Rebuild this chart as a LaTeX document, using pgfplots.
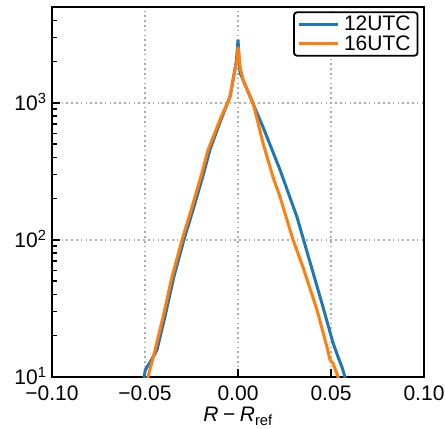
\documentclass[border=0pt]{standalone}
\usepackage{pgfplots}
\pgfplotsset{compat=1.18}
\usepackage{fontspec}
\setmainfont{Liberation Sans}

\definecolor{c12}{HTML}{1F77B4}
\definecolor{c16}{HTML}{FF7F0E}

\newcommand{\bigfont}{\fontsize{21}{24}\selectfont}

\begin{document}
\begin{tikzpicture}[font=\bigfont]
\begin{axis}[
    name=ax,
    scale only axis,
    width=372pt, height=370pt,
    xmin=-0.10, xmax=0.10,
    ymode=log, ymin=10, ymax=5000,
    axis line style={line width=2.2pt},
    xtick pos=left, ytick pos=left,
    tick align=inside,
    major tick length=8pt, minor tick length=4.5pt,
    every tick/.style={black, line width=1.4pt},
    xtick={-0.10,-0.05,0,0.05,0.10},
    xticklabels={−0.10,−0.05,0.00,0.05,0.10},
    ytick={10,100,1000},
    yticklabels={10\textsuperscript{1},10\textsuperscript{2},10\textsuperscript{3}},
    minor ytick={20,30,40,50,60,70,80,90,200,300,400,500,600,700,800,900,2000,3000,4000,5000},
    tick label style={font=\bigfont},
    xticklabel style={yshift=-5pt},
    yticklabel style={xshift=-2pt, yshift=1pt},
    grid=major,
    major grid style={color=black!33, dash pattern=on 1.6pt off 3.2pt, line width=1.5pt},
    xlabel={\textit{R}\hspace{0.22em}−\hspace{0.22em}\textit{R}\textsubscript{ref}},
    xlabel style={font=\bigfont, yshift=0pt},
    legend style={at={(0.985,0.988)}, anchor=north east, draw=black,
        line width=1.8pt, rounded corners=3pt, font=\bigfont,
        inner xsep=3pt, inner ysep=2pt, row sep=-1pt,
        nodes={inner xsep=4pt}},
    legend cell align=left,
    legend image code/.code={\draw[#1, line width=3.2pt] (0cm,0cm) -- (1.4cm,0cm);},
]
% 12 UTC
\addplot[c12, line width=3pt] coordinates {
(-0.0512,8) (-0.0505,10) (-0.0498,11.3) (-0.0470,13) (-0.0436,15.7)
(-0.0393,27.4) (-0.0345,53.7) (-0.0291,100) (-0.0237,174) (-0.0184,308)
(-0.0151,454) (-0.0092,752) (-0.0043,1107) (-0.0026,1472) (-0.0008,2060)
(0,2880) (0.0011,1656) (0.0065,1107) (0.0134,668) (0.0226,324)
(0.0317,147) (0.0403,58) (0.0457,32.4) (0.0511,17.7) (0.0538,14.0)
(0.0559,11.8) (0.0575,10) (0.0590,8)
};
\addlegendentry{12UTC}
% 16 UTC
\addplot[c16, line width=3pt] coordinates {
(-0.0495,8) (-0.0484,10) (-0.0446,15.7) (-0.0403,27.4) (-0.0355,53.7)
(-0.0301,100) (-0.0247,174) (-0.0194,308) (-0.0161,454)
(-0.0097,752) (-0.0043,1107) (-0.0027,1472) (-0.0005,2060) (0,2565)
(0.0011,1832) (0.0027,1472) (0.0081,1000) (0.0134,511) (0.0188,288)
(0.0226,206) (0.0296,100) (0.0349,63.5) (0.0425,30.8) (0.0478,16.6)
(0.0495,13.3) (0.0511,12.6) (0.0538,10) (0.0550,8)
};
\addlegendentry{16UTC}
\end{axis}
\pgfresetboundingbox
\path ([xshift=-52pt,yshift=-51pt]ax.south west) rectangle ([xshift=21pt,yshift=7pt]ax.north east);
\end{tikzpicture}
\end{document}
